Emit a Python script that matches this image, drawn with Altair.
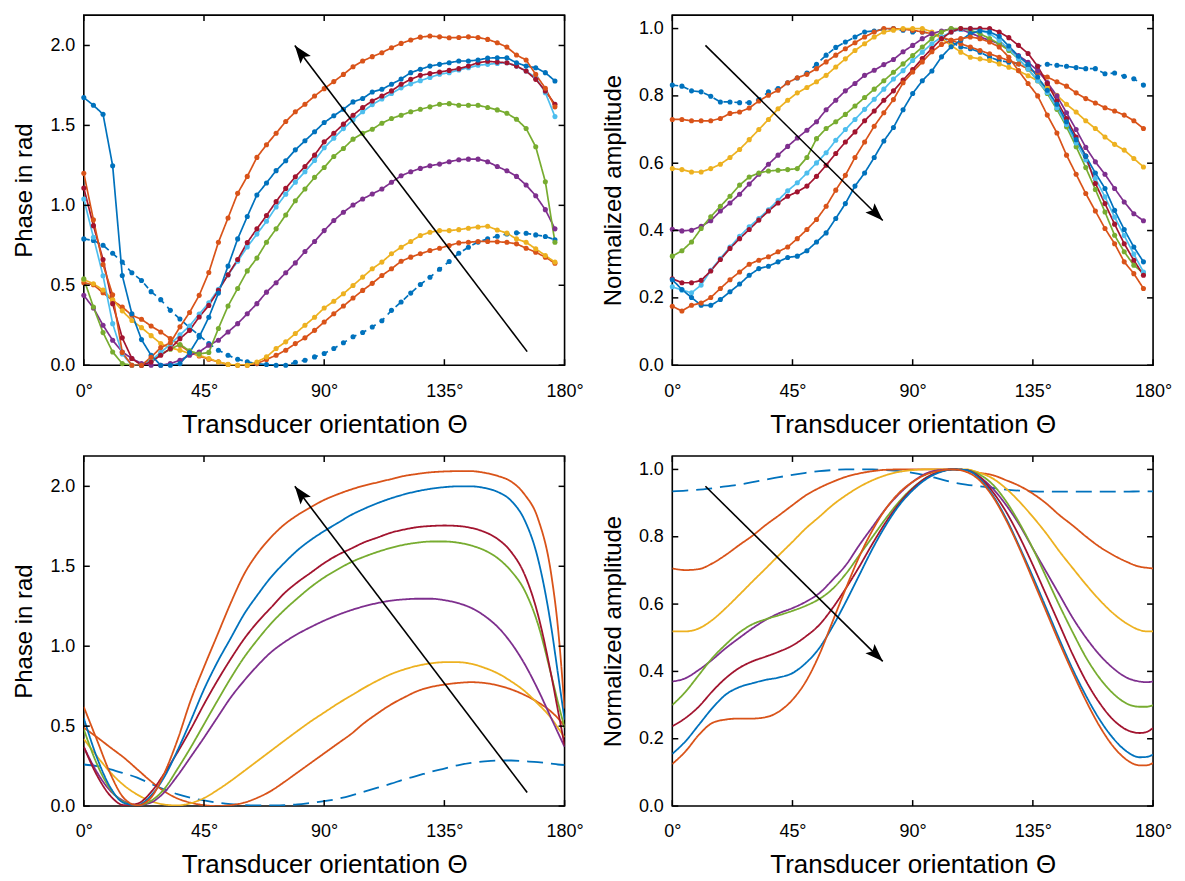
import math
import altair as alt
import pandas as pd

# ---------------- data ----------------
SERIES = ["s1", "s2", "s3", "s4", "s5", "s6", "s7", "s8", "s9"]
COLORS = ["#0072BD", "#D95319", "#EDB120", "#7E2F8E", "#77AC30",
          "#4DBEEE", "#A2142F", "#0072BD", "#D95319"]

# measured angles (deg)
theta_meas = [0.0, 3.6, 7.2, 10.8, 14.4, 18.0, 21.6, 25.2, 28.8, 32.4, 36.0, 39.6, 43.2,
              46.8, 50.4, 54.0, 57.6, 61.2, 64.8, 68.4, 72.0, 75.6, 79.2, 82.8, 86.4,
              90.0, 93.6, 97.2, 100.8, 104.4, 108.0, 111.6, 115.2, 118.8, 122.4, 126.0,
              129.6, 133.2, 136.8, 140.4, 144.0, 147.6, 151.2, 154.8, 158.4, 162.0,
              165.6, 169.2, 172.8, 176.4]

# ---- top-left: measured phase (rad)
tl_s1 = [0.79, 0.78, 0.75, 0.70, 0.645, 0.578, 0.53, 0.46, 0.41, 0.343, 0.289, 0.235, 0.187,
         0.135, 0.094, 0.062, 0.037, 0.021, 0.01, 0.004, 0.0, 0.0, 0.018, 0.031, 0.052,
         0.073, 0.104, 0.14, 0.178, 0.205, 0.239, 0.278, 0.343, 0.395, 0.451, 0.505,
         0.55, 0.60, 0.649, 0.70, 0.738, 0.77, 0.79, 0.807, 0.821, 0.828, 0.825, 0.815,
         0.805, 0.785]
tl_s2 = [0.516, 0.503, 0.453, 0.405, 0.364, 0.312, 0.287, 0.245, 0.208, 0.166, 0.125, 0.083,
         0.058, 0.037, 0.021, 0.004, 0.0, 0.0, 0.01, 0.036, 0.062, 0.094, 0.135, 0.171,
         0.218, 0.27, 0.322, 0.37, 0.42, 0.468, 0.512, 0.561, 0.603, 0.65, 0.676, 0.697,
         0.717, 0.732, 0.749, 0.765, 0.769, 0.774, 0.774, 0.772, 0.769, 0.759, 0.732,
         0.707, 0.676, 0.638]
tl_s3 = [0.535, 0.51, 0.47, 0.41, 0.34, 0.28, 0.235, 0.185, 0.135, 0.108, 0.094, 0.073,
         0.062, 0.042, 0.021, 0.005, 0.0, 0.0, 0.02, 0.052, 0.104, 0.146, 0.198, 0.25,
         0.30, 0.358, 0.40, 0.447, 0.499, 0.551, 0.603, 0.645, 0.697, 0.738, 0.774, 0.811,
         0.832, 0.842, 0.842, 0.848, 0.857, 0.865, 0.869, 0.846, 0.826, 0.79, 0.769,
         0.728, 0.686, 0.645]
tl_s4 = [0.437, 0.358, 0.25, 0.156, 0.083, 0.042, 0.01, 0.0, 0.0, 0.01, 0.031, 0.062, 0.083,
         0.125, 0.156, 0.208, 0.26, 0.322, 0.385, 0.457, 0.516, 0.578, 0.64, 0.711, 0.774,
         0.842, 0.905, 0.957, 1.002, 1.04, 1.071, 1.102, 1.144, 1.185, 1.21, 1.231,
         1.248, 1.258, 1.273, 1.285, 1.289, 1.289, 1.273, 1.243, 1.216, 1.181, 1.127,
         1.06, 0.973, 0.853]
tl_s5 = [0.54, 0.364, 0.204, 0.083, 0.01, 0.0, 0.0, 0.03, 0.07, 0.10, 0.13, 0.09, 0.07,
         0.08, 0.23, 0.37, 0.48, 0.59, 0.67, 0.769, 0.853, 0.94, 1.029, 1.102, 1.175,
         1.237, 1.306, 1.356, 1.414, 1.451, 1.476, 1.514, 1.543, 1.564, 1.585, 1.601,
         1.616, 1.632, 1.636, 1.626, 1.626, 1.626, 1.612, 1.597, 1.576, 1.539, 1.481,
         1.366, 1.148, 0.769]
tl_s6 = [1.04, 0.80, 0.56, 0.26, 0.07, 0.0, 0.0, 0.03, 0.08, 0.13, 0.19, 0.245, 0.32,
         0.39, 0.475, 0.565, 0.65, 0.74, 0.82, 0.90, 0.99, 1.07, 1.145, 1.21, 1.28, 1.36,
         1.42, 1.48, 1.535, 1.585, 1.63, 1.665, 1.70, 1.735, 1.76, 1.78, 1.80, 1.82, 1.83,
         1.847, 1.861, 1.876, 1.882, 1.888, 1.892, 1.871, 1.84, 1.799, 1.705, 1.555]
tl_s7 = [1.108, 0.873, 0.661, 0.385, 0.171, 0.042, 0.0, 0.02, 0.062, 0.104, 0.166, 0.218,
         0.302, 0.374, 0.468, 0.566, 0.661, 0.767, 0.853, 0.936, 1.023, 1.106, 1.179,
         1.243, 1.314, 1.397, 1.451, 1.508, 1.564, 1.612, 1.653, 1.684, 1.716, 1.757,
         1.788, 1.813, 1.824, 1.834, 1.844, 1.855, 1.871, 1.892, 1.901, 1.896, 1.892,
         1.871, 1.84, 1.788, 1.716, 1.632]
tl_s8 = [1.674, 1.626, 1.570, 1.248, 0.561, 0.322, 0.160, 0.062, 0.0, 0.0, 0.01, 0.079,
         0.177, 0.30, 0.451, 0.62, 0.79, 0.93, 1.065, 1.14, 1.217, 1.279, 1.347, 1.404,
         1.46, 1.518, 1.56, 1.601, 1.647, 1.668, 1.709, 1.726, 1.757, 1.79, 1.83, 1.851,
         1.871, 1.882, 1.892, 1.903, 1.903, 1.909, 1.921, 1.923, 1.923, 1.892, 1.871,
         1.861, 1.83, 1.778]
tl_s9 = [1.20, 0.91, 0.63, 0.44, 0.08, 0.0, 0.0, 0.05, 0.11, 0.14, 0.24, 0.33, 0.437,
         0.58, 0.769, 0.921, 1.075, 1.181, 1.30, 1.379, 1.451, 1.524, 1.585, 1.632, 1.684,
         1.73, 1.774, 1.819, 1.867, 1.903, 1.93, 1.955, 1.986, 2.013, 2.034, 2.052, 2.059,
         2.054, 2.048, 2.05, 2.054, 2.05, 2.038, 2.017, 1.99, 1.94, 1.909, 1.819, 1.732,
         1.616]

# ---- top-right: measured normalized amplitude
tr_s1 = [0.832, 0.829, 0.815, 0.812, 0.799, 0.782, 0.782, 0.78, 0.78, 0.789, 0.812, 0.822,
         0.839, 0.853, 0.868, 0.894, 0.921, 0.944, 0.96, 0.975, 0.99, 0.993, 0.998, 1.0,
         0.995, 0.99, 0.99, 0.985, 0.975, 0.96, 0.945, 0.94, 0.93, 0.915, 0.905, 0.9,
         0.895, 0.89, 0.888, 0.894, 0.891, 0.888, 0.884, 0.881, 0.881, 0.866, 0.868,
         0.858, 0.851, 0.832]
tr_s2 = [0.73, 0.73, 0.726, 0.726, 0.726, 0.733, 0.748, 0.752, 0.764, 0.785, 0.802, 0.817,
         0.839, 0.854, 0.864, 0.881, 0.901, 0.921, 0.94, 0.958, 0.975, 0.99, 1.0, 1.0,
         0.998, 0.995, 0.99, 0.985, 0.975, 0.965, 0.955, 0.945, 0.935, 0.925, 0.915, 0.905,
         0.895, 0.88, 0.868, 0.856, 0.842, 0.829, 0.809, 0.792, 0.779, 0.765, 0.755,
         0.743, 0.726, 0.703]
tr_s3 = [0.584, 0.581, 0.574, 0.574, 0.584, 0.597, 0.617, 0.641, 0.67, 0.70, 0.73, 0.762,
         0.787, 0.809, 0.825, 0.842, 0.861, 0.886, 0.91, 0.935, 0.955, 0.975, 0.99, 0.995,
         1.0, 1.0, 1.0, 0.99, 0.97, 0.95, 0.93, 0.915, 0.91, 0.905, 0.895, 0.885, 0.875,
         0.86, 0.845, 0.825, 0.802, 0.775, 0.752, 0.726, 0.703, 0.678, 0.656, 0.639,
         0.614, 0.589]
tr_s4 = [0.404, 0.399, 0.401, 0.413, 0.429, 0.458, 0.482, 0.508, 0.538, 0.567, 0.597, 0.624,
         0.65, 0.675, 0.698, 0.723, 0.759, 0.787, 0.815, 0.837, 0.861, 0.876, 0.893, 0.908,
         0.931, 0.95, 0.97, 0.985, 0.993, 0.999, 0.997, 0.987, 0.975, 0.965, 0.955, 0.94,
         0.92, 0.90, 0.875, 0.84, 0.80, 0.75, 0.70, 0.647, 0.604, 0.567, 0.525, 0.485,
         0.45, 0.429]
tr_s5 = [0.324, 0.34, 0.366, 0.406, 0.441, 0.472, 0.502, 0.535, 0.559, 0.571, 0.577, 0.579,
         0.581, 0.584, 0.617, 0.673, 0.703, 0.723, 0.745, 0.77, 0.795, 0.82, 0.845, 0.87,
         0.895, 0.92, 0.945, 0.97, 0.99, 1.0, 1.0, 0.995, 0.985, 0.97, 0.955, 0.935, 0.91,
         0.88, 0.845, 0.807, 0.76, 0.708, 0.649, 0.587, 0.522, 0.455, 0.386, 0.337,
         0.297, 0.274]
tr_s6 = [0.233, 0.223, 0.215, 0.238, 0.282, 0.317, 0.351, 0.383, 0.411, 0.436, 0.462, 0.49,
         0.518, 0.542, 0.571, 0.601, 0.631, 0.668, 0.70, 0.73, 0.76, 0.79, 0.82, 0.85,
         0.875, 0.905, 0.93, 0.955, 0.975, 0.99, 0.997, 1.0, 0.995, 0.985, 0.965, 0.94,
         0.91, 0.88, 0.845, 0.81, 0.765, 0.715, 0.66, 0.61, 0.555, 0.50, 0.44, 0.385,
         0.33, 0.277]
tr_s7 = [0.257, 0.245, 0.245, 0.252, 0.28, 0.314, 0.347, 0.376, 0.403, 0.431, 0.458, 0.482,
         0.502, 0.515, 0.532, 0.561, 0.594, 0.629, 0.663, 0.693, 0.726, 0.755, 0.787,
         0.815, 0.847, 0.878, 0.911, 0.941, 0.97, 0.99, 1.0, 1.0, 1.0, 1.0, 0.99, 0.973,
         0.95, 0.926, 0.888, 0.837, 0.785, 0.733, 0.678, 0.621, 0.54, 0.48, 0.419, 0.361,
         0.312, 0.267]
tr_s8 = [0.254, 0.225, 0.201, 0.178, 0.178, 0.195, 0.218, 0.241, 0.267, 0.287, 0.294, 0.307,
         0.32, 0.324, 0.34, 0.366, 0.393, 0.436, 0.48, 0.532, 0.571, 0.617, 0.666, 0.706,
         0.759, 0.807, 0.845, 0.874, 0.916, 0.946, 0.965, 0.985, 0.993, 0.99, 0.977, 0.948,
         0.918, 0.894, 0.856, 0.817, 0.775, 0.723, 0.67, 0.621, 0.571, 0.525, 0.46, 0.403,
         0.351, 0.307]
tr_s9 = [0.175, 0.161, 0.178, 0.185, 0.201, 0.228, 0.254, 0.277, 0.30, 0.312, 0.322, 0.337,
         0.351, 0.376, 0.403, 0.433, 0.472, 0.52, 0.564, 0.617, 0.663, 0.71, 0.75, 0.789,
         0.839, 0.871, 0.901, 0.931, 0.953, 0.965, 0.97, 0.975, 0.97, 0.96, 0.945, 0.915,
         0.875, 0.837, 0.80, 0.743, 0.69, 0.624, 0.567, 0.51, 0.458, 0.406, 0.361, 0.307,
         0.272, 0.228]

# model angles (deg)
theta_model = [0, 5, 10, 15, 20, 25, 30, 35, 40, 45, 50, 55, 60, 65, 70, 75, 80, 85, 90,
               95, 100, 105, 110, 115, 120, 125, 130, 135, 140, 145, 150, 155, 160, 165,
               170, 175, 177.5, 180]

# ---- bottom-left: model phase (rad); no light-blue curve visible
bl_s1 = [0.26, 0.25, 0.23, 0.205, 0.178, 0.14, 0.105, 0.075, 0.052, 0.035, 0.021, 0.012,
         0.006, 0.004, 0.004, 0.006, 0.01, 0.02, 0.031, 0.045, 0.065, 0.09, 0.115, 0.14,
         0.167, 0.19, 0.215, 0.235, 0.255, 0.27, 0.28, 0.285, 0.285, 0.28, 0.275, 0.265,
         0.26, 0.257]
bl_s2 = [0.49, 0.43, 0.366, 0.303, 0.23, 0.157, 0.094, 0.048, 0.021, 0.006, 0.0, 0.006,
         0.021, 0.052, 0.094, 0.15, 0.21, 0.27, 0.33, 0.39, 0.45, 0.52, 0.58, 0.635, 0.68,
         0.72, 0.745, 0.76, 0.77, 0.775, 0.77, 0.755, 0.73, 0.695, 0.65, 0.59, 0.55, 0.50]
bl_s3 = [0.42, 0.31, 0.21, 0.13, 0.072, 0.032, 0.01, 0.004, 0.018, 0.05, 0.1, 0.157, 0.219,
         0.282, 0.345, 0.408, 0.47, 0.53, 0.585, 0.64, 0.69, 0.74, 0.785, 0.825, 0.855,
         0.878, 0.893, 0.9, 0.9, 0.89, 0.865, 0.83, 0.78, 0.72, 0.64, 0.55, 0.49, 0.43]
bl_s4 = [0.37, 0.21, 0.094, 0.031, 0.006, 0.021, 0.084, 0.188, 0.307, 0.428, 0.554, 0.679,
         0.784, 0.878, 0.961, 1.024, 1.076, 1.12, 1.16, 1.195, 1.225, 1.25, 1.27, 1.285,
         1.293, 1.297, 1.297, 1.288, 1.27, 1.24, 1.19, 1.12, 1.02, 0.89, 0.73, 0.55, 0.46,
         0.37]
bl_s5 = [0.48, 0.26, 0.104, 0.025, 0.006, 0.031, 0.104, 0.23, 0.366, 0.512, 0.658, 0.80,
         0.93, 1.04, 1.14, 1.225, 1.30, 1.37, 1.43, 1.48, 1.525, 1.56, 1.59, 1.615, 1.635,
         1.648, 1.655, 1.655, 1.648, 1.63, 1.60, 1.55, 1.47, 1.35, 1.14, 0.82, 0.65, 0.49]
bl_s7 = [0.37, 0.19, 0.063, 0.006, 0.015, 0.084, 0.20, 0.334, 0.48, 0.637, 0.784, 0.92,
         1.045, 1.15, 1.24, 1.33, 1.40, 1.46, 1.52, 1.57, 1.61, 1.65, 1.68, 1.71, 1.73,
         1.745, 1.752, 1.755, 1.752, 1.74, 1.715, 1.67, 1.59, 1.45, 1.20, 0.82, 0.60, 0.38]
bl_s8 = [0.55, 0.30, 0.115, 0.02, 0.006, 0.063, 0.178, 0.345, 0.533, 0.73, 0.90, 1.05,
         1.20, 1.32, 1.43, 1.52, 1.60, 1.665, 1.72, 1.77, 1.82, 1.86, 1.895, 1.925, 1.95,
         1.97, 1.985, 1.995, 2.0, 2.0, 1.99, 1.965, 1.91, 1.79, 1.55, 1.12, 0.83, 0.54]
bl_s9 = [0.62, 0.41, 0.20, 0.05, 0.005, 0.05, 0.20, 0.41, 0.66, 0.87, 1.07, 1.27, 1.45,
         1.58, 1.68, 1.76, 1.82, 1.87, 1.915, 1.95, 1.98, 2.005, 2.025, 2.045, 2.065,
         2.078, 2.088, 2.093, 2.095, 2.095, 2.085, 2.065, 2.03, 1.95, 1.80, 1.45, 1.12, 0.61]

# ---- bottom-right: model normalized amplitude
br_s1 = [0.935, 0.937, 0.94, 0.944, 0.95, 0.955, 0.962, 0.97, 0.977, 0.984, 0.99, 0.995,
         0.998, 1.0, 1.0, 1.0, 0.998, 0.995, 0.99, 0.982, 0.972, 0.962, 0.955, 0.95, 0.945,
         0.94, 0.937, 0.935, 0.934, 0.934, 0.934, 0.934, 0.934, 0.934, 0.934, 0.935,
         0.935, 0.935]
br_s2 = [0.706, 0.701, 0.704, 0.721, 0.746, 0.775, 0.803, 0.835, 0.864, 0.894, 0.923, 0.945,
         0.963, 0.978, 0.988, 0.995, 0.999, 1.0, 1.0, 1.0, 1.0, 1.0, 0.998, 0.99, 0.983,
         0.968, 0.951, 0.928, 0.899, 0.864, 0.833, 0.80, 0.77, 0.746, 0.726, 0.711, 0.708,
         0.706]
br_s3 = [0.519, 0.519, 0.528, 0.553, 0.588, 0.627, 0.667, 0.706, 0.746, 0.785, 0.825, 0.859,
         0.894, 0.923, 0.948, 0.968, 0.983, 0.993, 0.998, 1.0, 1.0, 1.0, 1.0, 0.99, 0.973,
         0.943, 0.904, 0.859, 0.81, 0.756, 0.706, 0.657, 0.612, 0.573, 0.543, 0.523, 0.519,
         0.519]
br_s4 = [0.37, 0.38, 0.405, 0.435, 0.469, 0.499, 0.528, 0.553, 0.573, 0.588, 0.607, 0.632,
         0.672, 0.716, 0.775, 0.83, 0.884, 0.928, 0.963, 0.988, 0.998, 1.0, 0.998, 0.978,
         0.943, 0.894, 0.835, 0.765, 0.696, 0.627, 0.558, 0.499, 0.449, 0.41, 0.382, 0.37,
         0.368, 0.37]
br_s5 = [0.30, 0.34, 0.39, 0.44, 0.48, 0.515, 0.54, 0.555, 0.567, 0.58, 0.595, 0.615, 0.645,
         0.69, 0.745, 0.80, 0.855, 0.905, 0.945, 0.975, 0.993, 1.0, 0.998, 0.985, 0.955,
         0.905, 0.84, 0.765, 0.68, 0.595, 0.515, 0.44, 0.38, 0.335, 0.305, 0.295, 0.295,
         0.30]
br_s7 = [0.237, 0.262, 0.296, 0.341, 0.38, 0.41, 0.43, 0.444, 0.459, 0.477, 0.504, 0.538,
         0.588, 0.647, 0.711, 0.78, 0.844, 0.899, 0.943, 0.975, 0.993, 1.0, 0.998, 0.978,
         0.933, 0.874, 0.80, 0.716, 0.627, 0.538, 0.449, 0.37, 0.306, 0.257, 0.227, 0.217,
         0.22, 0.232]
br_s8 = [0.155, 0.193, 0.242, 0.291, 0.331, 0.353, 0.365, 0.375, 0.382, 0.395, 0.425, 0.469,
         0.533, 0.607, 0.686, 0.765, 0.835, 0.894, 0.938, 0.971, 0.991, 1.0, 0.998, 0.973,
         0.923, 0.854, 0.77, 0.681, 0.588, 0.494, 0.405, 0.326, 0.257, 0.202, 0.163, 0.145,
         0.146, 0.153]
br_s9 = [0.125, 0.163, 0.212, 0.247, 0.257, 0.26, 0.26, 0.264, 0.281, 0.316, 0.37, 0.449,
         0.548, 0.647, 0.741, 0.82, 0.884, 0.931, 0.963, 0.985, 0.996, 1.0, 0.993, 0.968,
         0.919, 0.849, 0.765, 0.672, 0.578, 0.484, 0.395, 0.311, 0.237, 0.178, 0.138, 0.121,
         0.121, 0.128]

# arrows: (tail angle, tail value, tip angle, tip value)
arrow_phase = [166.0, 0.085, 79.0, 2.0]
arrow_amp = [12.4, 0.95, 78.8, 0.43]

x_ticks = [0, 45, 90, 135, 180]
phase_ticks = [0, 0.5, 1.0, 1.5, 2.0]
amp_ticks = [0, 0.2, 0.4, 0.6, 0.8, 1.0]
phase_max = 2.19
amp_max = 1.04

# ---------------- build ----------------
W, H = 482, 351
FONT = "Liberation Sans"
ARROW_PATH = "M0,0 L-0.36,1 L0,0.8 L0.36,1 Z"
TICK = 6
STYLE_DOMAIN = ["solid", "dash_meas", "dash_model"]
STYLE_RANGE = [[1, 0], [6, 5], [16, 8]]


def long_df(theta, named, measured):
    rows = []
    for name, vals in named:
        assert len(vals) == len(theta), (name, len(vals))
        style = "solid"
        if name == "s1":
            style = "dash_meas" if measured else "dash_model"
        for t, v in zip(theta, vals):
            rows.append({"theta": t, "value": v, "series": name, "style": style})
    return pd.DataFrame(rows)


def panel(df, ymax, yticks, ytitle, arrow, measured):
    xs = alt.Scale(domain=[0, 180], nice=False, zero=False)
    ys = alt.Scale(domain=[0, ymax], nice=False, zero=False)
    color = alt.Color("series:N", scale=alt.Scale(domain=SERIES, range=COLORS), legend=None)
    dash = alt.StrokeDash("style:N", scale=alt.Scale(domain=STYLE_DOMAIN, range=STYLE_RANGE),
                          legend=None)
    x_axis = alt.Axis(values=x_ticks, labelExpr="datum.value + '°'",
                      title="Transducer orientation Θ", orient="bottom", ticks=False,
                      domain=False, grid=False, labelFlush=False, labelPadding=17,
                      titlePadding=11, titleFontSize=26)
    y_axis = alt.Axis(values=yticks, format=".1f", title=ytitle, orient="left", ticks=False,
                      domain=False, grid=False, labelPadding=9, titlePadding=13)

    line_kw = dict(strokeWidth=1.7, clip=True)
    if not measured:
        line_kw["interpolate"] = "monotone"
        line_kw["strokeWidth"] = 1.8
    lines = alt.Chart(df).mark_line(**line_kw).encode(
        x=alt.X("theta:Q", scale=xs, axis=x_axis),
        y=alt.Y("value:Q", scale=ys, axis=y_axis),
        color=color, strokeDash=dash, detail="series:N")
    layers = [lines]
    if measured:
        pts = alt.Chart(df).mark_circle(size=26, opacity=1).encode(
            x=alt.X("theta:Q", scale=xs, axis=None),
            y=alt.Y("value:Q", scale=ys, axis=None),
            color=color)
        layers.append(pts)

    # inward tick marks on all four sides of the box
    xt = pd.DataFrame({"t": x_ticks})
    yt = pd.DataFrame({"t": yticks})
    tick_kw = dict(color="black", strokeWidth=1.5)
    tb = alt.Chart(xt).mark_rule(**tick_kw).encode(
        x=alt.X("t:Q", scale=xs, axis=None), y=alt.value(H), y2=alt.value(H - TICK))
    tt = alt.Chart(xt).mark_rule(**tick_kw).encode(
        x=alt.X("t:Q", scale=xs, axis=None), y=alt.value(0), y2=alt.value(TICK))
    tlft = alt.Chart(yt).mark_rule(**tick_kw).encode(
        y=alt.Y("t:Q", scale=ys, axis=None), x=alt.value(0), x2=alt.value(TICK))
    trgt = alt.Chart(yt).mark_rule(**tick_kw).encode(
        y=alt.Y("t:Q", scale=ys, axis=None), x=alt.value(W), x2=alt.value(W - TICK))
    layers += [tb, tt, tlft, trgt]

    adf = pd.DataFrame([{"x0": arrow[0], "y0": arrow[1], "x1": arrow[2], "y1": arrow[3]}])
    rule = alt.Chart(adf).mark_rule(color="black", strokeWidth=1.6).encode(
        x=alt.X("x0:Q", scale=xs, axis=None),
        y=alt.Y("y0:Q", scale=ys, axis=None),
        x2="x1:Q", y2="y1:Q")
    dx = (arrow[2] - arrow[0]) * W / 180.0
    dy = (arrow[3] - arrow[1]) * H / ymax
    ang = math.degrees(math.atan2(dx, dy)) % 360
    head = alt.Chart(adf).mark_point(shape=ARROW_PATH, filled=True, color="black",
                                     opacity=1, size=1300, angle=ang, strokeWidth=0).encode(
        x=alt.X("x1:Q", scale=xs, axis=None),
        y=alt.Y("y1:Q", scale=ys, axis=None))
    layers += [rule, head]
    return alt.layer(*layers).resolve_axis(x="independent", y="independent").properties(
        width=W, height=H)


tl = panel(long_df(theta_meas, [("s1", tl_s1), ("s2", tl_s2), ("s3", tl_s3), ("s4", tl_s4),
                                ("s5", tl_s5), ("s6", tl_s6), ("s7", tl_s7), ("s8", tl_s8),
                                ("s9", tl_s9)], True),
           phase_max, phase_ticks, "Phase in rad", arrow_phase, True)
tr = panel(long_df(theta_meas, [("s1", tr_s1), ("s2", tr_s2), ("s3", tr_s3), ("s4", tr_s4),
                                ("s5", tr_s5), ("s6", tr_s6), ("s7", tr_s7), ("s8", tr_s8),
                                ("s9", tr_s9)], True),
           amp_max, amp_ticks, "Normalized amplitude", arrow_amp, True)
bl = panel(long_df(theta_model, [("s1", bl_s1), ("s2", bl_s2), ("s3", bl_s3), ("s4", bl_s4),
                                 ("s5", bl_s5), ("s7", bl_s7), ("s8", bl_s8), ("s9", bl_s9)],
                   False),
           phase_max, phase_ticks, "Phase in rad", arrow_phase, False)
br = panel(long_df(theta_model, [("s1", br_s1), ("s2", br_s2), ("s3", br_s3), ("s4", br_s4),
                                 ("s5", br_s5), ("s7", br_s7), ("s8", br_s8), ("s9", br_s9)],
                   False),
           amp_max, amp_ticks, "Normalized amplitude", arrow_amp, False)

chart = alt.concat(tl, tr, bl, br, columns=2, spacing={"row": 91, "column": 108},
                   bounds="flush").properties(
    padding={"left": 4, "top": 4, "right": 4, "bottom": 0},
    background="white",
).configure_view(stroke="black", strokeWidth=1.6).configure_axis(
    labelFont=FONT, titleFont=FONT, labelFontSize=18, titleFontSize=24,
    titleFontWeight="normal", labelColor="black", titleColor="black")

chart.save("out.html", embed_options={"renderer": "svg", "actions": False})
